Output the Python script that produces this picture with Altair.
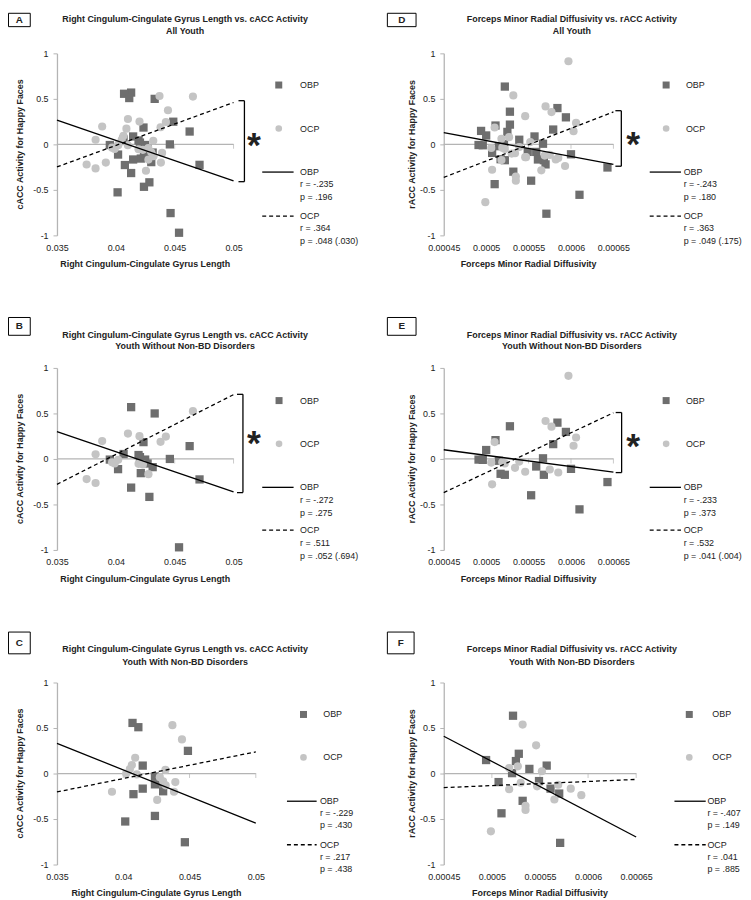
import altair as alt
import pandas as pd

# ---------------- data ----------------
# Youth without non-BD disorders (panel B / E)
b_obp_x = [0.0413, 0.0433, 0.04235, 0.04627, 0.04066, 0.04193, 0.04249, 0.04459, 0.03949,
           0.04019, 0.04313, 0.04212, 0.04711, 0.0413, 0.04285, 0.04537, 0.04205, 0.0427]
b_obp_y = [0.569, 0.50, 0.185, 0.141, 0.054, 0.043, -0.007, 0.0, -0.007,
           -0.112, -0.09, -0.156, -0.225, -0.315, -0.417, -0.971, 0.02, -0.05]
b_ocp_x = [0.04655, 0.04103, 0.04201, 0.04425, 0.0438, 0.03884, 0.03828, 0.03968,
           0.0402, 0.04193, 0.0423, 0.04277, 0.03752, 0.03828, 0.0399]
b_ocp_y = [0.525, 0.279, 0.25, 0.246, 0.188, 0.196, 0.051, -0.036,
           -0.01, -0.054, -0.06, -0.167, -0.221, -0.264, -0.05]

# Youth with non-BD disorders (panel C / F)
c_obp_x = [0.0407, 0.04114, 0.04488, 0.04147, 0.04239, 0.04239, 0.04147, 0.04077,
           0.04301, 0.04015, 0.04239, 0.04465, 0.0429]
c_obp_y = [0.556, 0.509, 0.249, 0.087, -0.032, -0.119, -0.166, -0.227,
           -0.195, -0.527, -0.466, -0.755, -0.10]
c_ocp_x = [0.04371, 0.04443, 0.0409, 0.04065, 0.0405, 0.04022, 0.04102, 0.04318,
           0.04276, 0.04301, 0.0432, 0.04393, 0.04383, 0.03915, 0.04256]
c_ocp_y = [0.531, 0.375, 0.173, 0.094, 0.05, 0.0, -0.01, 0.04,
           -0.04, -0.087, -0.13, -0.094, -0.2, -0.2, -0.29]

e_obp_x = [0.000528, 0.000584, 0.000594, 0.000579, 0.000511, 0.0005, 0.000491, 0.000496,
           0.000567, 0.000559, 0.000568, 0.000517, 0.000522, 0.0006, 0.000643, 0.000553,
           0.00061, 0.000515]
e_obp_y = [0.359, 0.399, 0.297, 0.163, 0.207, 0.098, -0.007, -0.01,
           0.007, -0.083, -0.174, -0.163, -0.174, -0.109, -0.254, -0.399,
           -0.554, -0.02]
e_ocp_x = [0.000597, 0.00057, 0.000577, 0.000606, 0.000603, 0.00051, 0.000506, 0.000519,
           0.000539, 0.000534, 0.000546, 0.000575, 0.000585, 0.000507, 0.000522]
e_ocp_y = [0.913, 0.417, 0.355, 0.236, 0.145, 0.185, -0.04, -0.036,
           -0.029, -0.098, -0.141, -0.116, -0.149, -0.279, -0.05]

f_obp_x = [0.000522, 0.000528, 0.000525, 0.000494, 0.000539, 0.000557, 0.000521, 0.000507,
           0.000549, 0.000561, 0.00057, 0.000532, 0.00051, 0.000571]
f_obp_y = [0.635, 0.217, 0.137, 0.148, 0.051, 0.087, 0.004, -0.094,
           -0.083, -0.166, -0.22, -0.3, -0.437, -0.762]
f_ocp_x = [0.000532, 0.000546, 0.000527, 0.000518, 0.000552, 0.00053, 0.000518, 0.000547,
           0.000569, 0.000582, 0.000593, 0.000565, 0.000535, 0.000535, 0.000499]
f_ocp_y = [0.538, 0.31, 0.079, 0.061, 0.025, -0.101, -0.173, -0.141,
           -0.123, -0.166, -0.238, -0.285, -0.354, -0.4, -0.635]

# All youth (panel A / D) = both subgroups
a_obp_x, a_obp_y = b_obp_x + c_obp_x, b_obp_y + c_obp_y
a_ocp_x, a_ocp_y = b_ocp_x + c_ocp_x, b_ocp_y + c_ocp_y
d_obp_x, d_obp_y = e_obp_x + f_obp_x, e_obp_y + f_obp_y
d_ocp_x, d_ocp_y = e_ocp_x + f_ocp_x, e_ocp_y + f_ocp_y

# trend-line end values (at the two ends of the x axis)
a_obp_line, a_ocp_line = [0.266, -0.40], [-0.248, 0.46]
b_obp_line, b_ocp_line = [0.30, -0.362], [-0.279, 0.707]
c_obp_line, c_ocp_line = [0.332, -0.545], [-0.202, 0.238]
d_obp_line, d_ocp_line = [0.13, -0.22], [-0.363, 0.356]
e_obp_line, e_ocp_line = [0.101, -0.145], [-0.37, 0.507]
f_obp_line, f_ocp_line = [0.41, -0.697], [-0.155, -0.065]

len_ticks = [0.035, 0.04, 0.045, 0.05]
rd_ticks = [0.00045, 0.0005, 0.00055, 0.0006, 0.00065]
y_ticks = [-1, -0.5, 0, 0.5, 1]

len_title = "Right Cingulum-Cingulate Gyrus Length vs. cACC Activity"
rd_title = "Forceps Minor Radial Diffusivity vs. rACC Activity"
sub_titles = ["All Youth", "Youth Without Non-BD Disorders", "Youth With Non-BD Disorders"]
len_x = "Right Cingulum-Cingulate Gyrus Length"
rd_x = "Forceps Minor Radial Diffusivity"
c_y = "cACC Activity for Happy Faces"
r_y = "rACC Activity for Happy Faces"

stats = {
    "A": ["r = -.235", "p = .196", "r = .364", "p = .048 (.030)"],
    "B": ["r = -.272", "p = .275", "r = .511", "p = .052 (.694)"],
    "C": ["r = -.229", "p = .430", "r = .217", "p = .438"],
    "D": ["r = -.243", "p = .180", "r = .363", "p = .049 (.175)"],
    "E": ["r = -.233", "p = .373", "r = .532", "p = .041 (.004)"],
    "F": ["r = -.407", "p = .149", "r = .041", "p = .885"],
}
bracket_vals = {"A": [0.48, -0.41], "B": [0.71, -0.37], "D": [0.37, -0.24], "E": [0.51, -0.15]}

# ---------------- style ----------------
FONT = "Liberation Sans, Arial, sans-serif"
FS = 9
TXT = "#222222"
AXC = "#b4b4b4"
DARK = "#6e6e6e"
LIGHT = "#c4c4c4"
H = 184
ONE = pd.DataFrame({"k": [0]})


def T(s, x, y, size=FS, bold=False, align="left", angle=None, baseline="middle"):
    kw = dict(align=align, baseline=baseline, fontSize=size, font=FONT, color=TXT)
    if bold:
        kw["fontWeight"] = "bold"
    if angle is not None:
        kw["angle"] = angle
    return alt.Chart(ONE).mark_text(**kw).encode(
        x=alt.value(x), y=alt.value(y), text=alt.value(s))


def panel(letter, w, xdom, xticks, title1, title2, xtitle, ytitle,
          obp_x, obp_y, ocp_x, ocp_y, obp_line, ocp_line, g):
    xs = alt.Scale(domain=xdom, nice=False, zero=False)
    ys = alt.Scale(domain=[-1, 1], nice=False, zero=False)
    xax = alt.Axis(values=xticks, labelExpr="'' + datum.value", domain=False, ticks=False,
                   grid=False, labelPadding=8, title=None, labelFontSize=FS, labelFont=FONT,
                   labelColor=TXT, labelFlush=False, labelOverlap=False, labelBound=False)
    yax = alt.Axis(values=y_ticks, labelExpr="'' + datum.value", domain=True, domainColor=AXC,
                   domainWidth=1.3, ticks=True, tickColor=AXC, tickSize=4, tickWidth=1,
                   labelPadding=5, grid=False, title=None, labelFontSize=FS, labelFont=FONT,
                   labelColor=TXT, labelFlush=False)

    def X(f):
        return alt.X(f, type="quantitative", scale=xs, axis=xax)

    def Y(f):
        return alt.Y(f, type="quantitative", scale=ys, axis=yax)

    layers = []
    zero = pd.DataFrame({"x": [xdom[0]], "x2": [xdom[1]], "y": [0]})
    layers.append(alt.Chart(zero).mark_rule(color=AXC, strokeWidth=1.3).encode(
        x=X("x"), x2="x2", y=Y("y")))
    zt = pd.DataFrame({"x": xticks[1:], "y": [0] * (len(xticks) - 1)})
    layers.append(alt.Chart(zt).mark_tick(orient="vertical", size=5, thickness=1, color=AXC,
                                          yOffset=2).encode(x=X("x"), y=Y("y")))
    obp = pd.DataFrame({"x": obp_x, "y": obp_y})
    ocp = pd.DataFrame({"x": ocp_x, "y": ocp_y})
    layers.append(alt.Chart(obp).mark_square(size=70, color=DARK, opacity=1).encode(
        x=X("x"), y=Y("y")))
    layers.append(alt.Chart(ocp).mark_circle(size=68, color=LIGHT, opacity=1).encode(
        x=X("x"), y=Y("y")))
    l1 = pd.DataFrame({"x": xdom, "y": obp_line})
    l2 = pd.DataFrame({"x": xdom, "y": ocp_line})
    layers.append(alt.Chart(l1).mark_line(color="black", strokeWidth=1.3).encode(
        x=X("x"), y=Y("y")))
    layers.append(alt.Chart(l2).mark_line(color="black", strokeWidth=1.3,
                                          strokeDash=[4, 3]).encode(x=X("x"), y=Y("y")))

    # bracket and asterisk
    if letter in bracket_vals:
        top, bot = bracket_vals[letter]
        bx = g["bx"]
        bd = pd.DataFrame({"top": [top], "bot": [bot]})
        layers.append(alt.Chart(bd).mark_rule(color="black", strokeWidth=1.3).encode(
            x=alt.value(bx), y=Y("top"), y2="bot"))
        layers.append(alt.Chart(bd).mark_rule(color="black", strokeWidth=1.3).encode(
            x=alt.value(bx - 6), x2=alt.value(bx), y=Y("top")))
        layers.append(alt.Chart(bd).mark_rule(color="black", strokeWidth=1.3).encode(
            x=alt.value(bx - 6), x2=alt.value(bx), y=Y("bot")))
        sx, sy = g["star"]
        layers.append(T("*", sx, sy + 14, size=36, bold=True, align="center",
                        baseline="alphabetic"))

    # legend
    sqx, sqt, sy1, sy2 = g["sq"]
    layers.append(alt.Chart(ONE).mark_square(size=50, color=DARK, opacity=1).encode(
        x=alt.value(sqx), y=alt.value(sy1)))
    layers.append(T("OBP", sqt, sy1))
    layers.append(alt.Chart(ONE).mark_circle(size=45, color=LIGHT, opacity=1).encode(
        x=alt.value(sqx), y=alt.value(sy2)))
    layers.append(T("OCP", sqt, sy2))
    lx1, lx2, lt = g["ln"]
    ry = g["rows"]
    layers.append(alt.Chart(ONE).mark_rule(color="black", strokeWidth=1.3).encode(
        x=alt.value(lx1), x2=alt.value(lx2), y=alt.value(ry[0])))
    layers.append(alt.Chart(ONE).mark_rule(color="black", strokeWidth=1.3,
                                           strokeDash=[4, 3]).encode(
        x=alt.value(lx1), x2=alt.value(lx2), y=alt.value(ry[3])))
    st = stats[letter]
    for s, yy in zip(["OBP", st[0], st[1], "OCP", st[2], st[3]], ry):
        layers.append(T(s, lt, yy))

    # titles
    t1y, t2y = g["ty"]
    layers.append(T(title1, 129.5, t1y, bold=True, align="center"))
    layers.append(T(title2, 129.5, t2y, bold=True, align="center"))
    layers.append(T(xtitle, w / 2, 213, bold=True, align="center"))
    layers.append(T(ytitle, g["yt"], H / 2, bold=True, align="center", angle=270))

    # panel letter box
    x1, y1, x2, y2 = g["box"]
    layers.append(alt.Chart(ONE).mark_rect(fill="white", stroke="black", strokeWidth=1).encode(
        x=alt.value(x1), x2=alt.value(x2), y=alt.value(y1), y2=alt.value(y2)))
    layers.append(T(letter, (x1 + x2) / 2, (y1 + y2) / 2, size=10, bold=True, align="center"))

    return alt.layer(*layers).properties(width=w, height=H)


rows_top = [120, 132, 145, 164.5, 177, 190]
rows_mid = [120.7, 133.3, 146.3, 164, 176.7, 190]
rows_bot = [120, 132.3, 144.3, 164, 176.3, 188.3]

pA = panel("A", 178.5, [0.035, 0.05], len_ticks, len_title, sub_titles[0], len_x, c_y,
           a_obp_x, a_obp_y, a_ocp_x, a_ocp_y, a_obp_line, a_ocp_line,
           dict(bx=189.5, star=(199.2, 90.7), sq=(224.2, 245.8, 32, 76), ln=(207.5, 239.2, 245.8),
                rows=rows_top, ty=(-35, -23), yt=-37, box=(-49, -40.5, -27, -27)))
pD = panel("D", 171.5, [0.00045, 0.00065], rd_ticks, rd_title, sub_titles[0], rd_x, r_y,
           d_obp_x, d_obp_y, d_ocp_x, d_ocp_y, d_obp_line, d_ocp_line,
           dict(bx=179.5, star=(191.5, 90), sq=(224.8, 244.8, 32, 76), ln=(208.2, 239.8, 242.5),
                rows=rows_top, ty=(-35, -23), yt=-32, box=(-57, -40.5, -28, -27)))
pB = panel("B", 178.5, [0.035, 0.05], len_ticks, len_title, sub_titles[1], len_x, c_y,
           b_obp_x, b_obp_y, b_ocp_x, b_ocp_y, b_obp_line, b_ocp_line,
           dict(bx=188, star=(199, 74), sq=(224.5, 245.8, 33, 76.7), ln=(207.5, 239.2, 245.8),
                rows=rows_mid, ty=(-33.3, -21.7), yt=-37, box=(-49, -51, -27, -33)))
pE = panel("E", 171.5, [0.00045, 0.00065], rd_ticks, rd_title, sub_titles[1], rd_x, r_y,
           e_obp_x, e_obp_y, e_ocp_x, e_ocp_y, e_obp_line, e_ocp_line,
           dict(bx=179.8, star=(191.5, 77), sq=(224.8, 244.8, 33, 76.7), ln=(208.2, 239.8, 242.5),
                rows=rows_mid, ty=(-33.3, -21.7), yt=-32, box=(-57, -51, -28, -33)))
pC = panel("C", 201, [0.035, 0.05], len_ticks, len_title, sub_titles[2], len_x, c_y,
           c_obp_x, c_obp_y, c_ocp_x, c_ocp_y, c_obp_line, c_ocp_line,
           dict(sq=(249.2, 269.2, 32.3, 75.7), ln=(232.5, 262.5, 265.8),
                rows=rows_bot, ty=(-34.3, -21), yt=-37, box=(-49, -51, -27, -29)))
pF = panel("F", 194.5, [0.00045, 0.00065], rd_ticks, rd_title, sub_titles[2], rd_x, r_y,
           f_obp_x, f_obp_y, f_ocp_x, f_ocp_y, f_obp_line, f_ocp_line,
           dict(sq=(248.2, 271.5, 32.3, 75.7), ln=(233.2, 264.8, 266.5),
                rows=rows_bot, ty=(-34.3, -21), yt=-32, box=(-57, -51, -30, -29)))

chart = alt.concat(
    pA, pD, pB, pE, pC, pF, columns=2, bounds="flush",
    spacing=alt.RowColnumber(row=134, column=190),
).properties(
    autosize=alt.AutoSizeParams(type="none"),
    padding={"left": 49.5, "top": 41, "right": 693.5, "bottom": 851},
).configure_view(stroke=None)

chart.save("out.html", embed_options={"renderer": "svg", "actions": False})
